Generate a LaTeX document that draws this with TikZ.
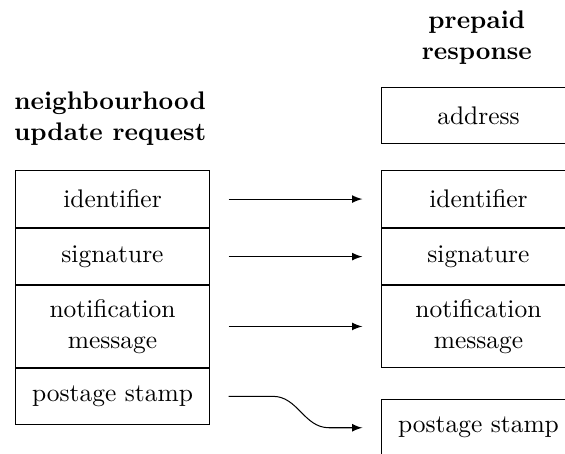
\documentclass[tikz,border=0pt]{standalone}
\usetikzlibrary{arrows}
\begin{document}
\begin{tikzpicture}[field/.style={draw, rectangle, minimum width=2.69cm, minimum height=0.78cm, align=center, inner sep=0pt}, twoline/.style={minimum height=1.12cm}, title/.style={align=center, font=\bfseries}, link/.style={-latex, shorten <=0.25cm, shorten >=0.25cm}]

		\useasboundingbox (0, 0) rectangle (7.797, -6.265);

		\node[title] (reqtitle) at (1.52, -1.64) {neighbourhood\\update request};
		\node[field, anchor=north] (lid) at (1.5525, -2.35) {identifier};
		\node[field, anchor=north] (lsig) at (lid.south) {signature};
		\node[field, twoline, anchor=north] (lmsg) at (lsig.south) {notification\\message};
		\node[field, anchor=north] (lstamp) at (lmsg.south) {postage stamp};

		\node[title] (resptitle) at (6.58, -0.52) {prepaid\\response};
		\node[field] (raddr) at (6.603, -1.594) {address};
		\node[field, anchor=north] (rid) at (6.603, -2.35) {identifier};
		\node[field, anchor=north] (rsig) at (rid.south) {signature};
		\node[field, twoline, anchor=north] (rmsg) at (rsig.south) {notification\\message};
		\node[field, anchor=north] (rstamp) at (6.603, -5.506) {postage stamp};

		\draw[link] (lid) -- (rid);
		\draw[link] (lsig) -- (rsig);
		\draw[link] (lmsg) -- (rmsg);
		\draw[-latex] ([xshift=0.25cm]lstamp.east) -- ++(0.61, 0) to[out=0, in=180] ([xshift=-0.71cm]rstamp.west) -- ([xshift=-0.25cm]rstamp.west);
	\end{tikzpicture}
\end{document}
